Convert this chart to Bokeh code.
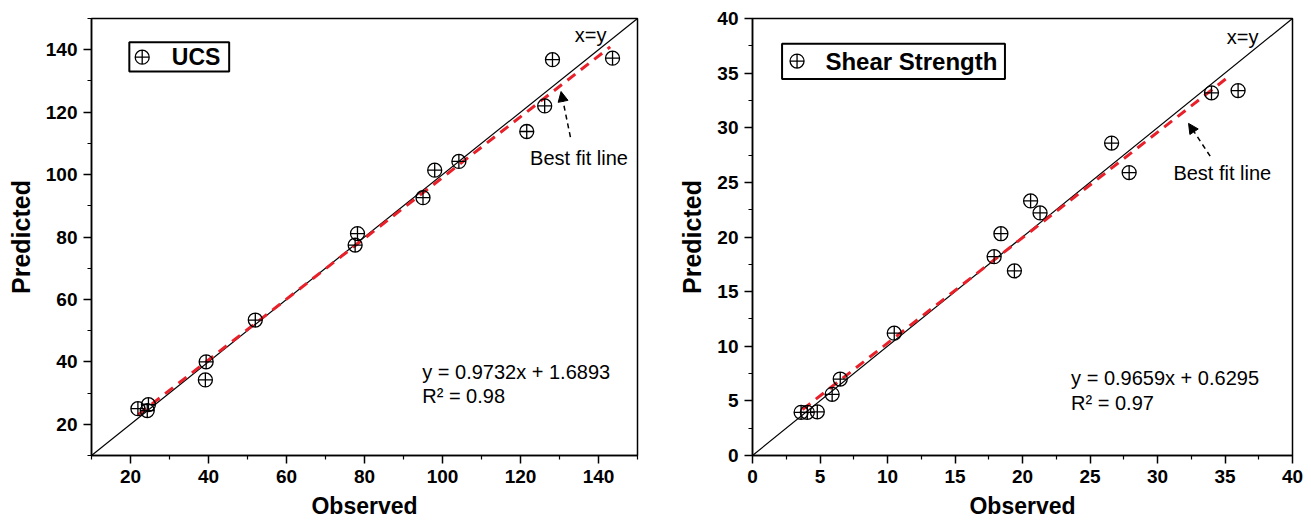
from bokeh.plotting import figure
from bokeh.layouts import row
from bokeh.models import FixedTicker, Label, Arrow, NormalHead, BoxAnnotation, Range1d
from bokeh.embed import file_html
from bokeh.resources import INLINE

FONT = "Liberation Sans"

# ---------------- UCS data ----------------
ucs_observed = [21.9, 24.3, 24.6, 39.2, 39.4, 52.0, 77.6, 78.2, 95.0, 98.0, 104.2, 121.6, 126.2, 128.2, 143.6]
ucs_predicted = [25.0, 24.4, 26.3, 34.2, 40.0, 53.4, 77.4, 81.1, 92.6, 101.4, 104.2, 113.8, 122.0, 136.8, 137.3]
ucs_fit_x = [22.0, 143.0]
ucs_fit_y = [23.1, 140.9]
ucs_diag = [10, 150]
ucs_major = [20, 40, 60, 80, 100, 120, 140]
ucs_minor = [10, 30, 50, 70, 90, 110, 130, 150]

# ---------------- Shear strength data ----------------
ss_observed = [3.6, 4.06, 4.8, 5.9, 6.5, 10.5, 17.9, 18.4, 19.4, 20.6, 21.3, 26.6, 27.9, 34.0, 35.97]
ss_predicted = [3.95, 3.95, 4.0, 5.6, 7.0, 11.2, 18.2, 20.3, 16.9, 23.3, 22.2, 28.6, 25.9, 33.2, 33.4]
ss_fit_x = [3.7, 35.3]
ss_fit_y = [4.2, 34.7]
ss_diag = [0, 40]
ss_major = [0, 5, 10, 15, 20, 25, 30, 35, 40]
ss_minor = [2.5, 7.5, 12.5, 17.5, 22.5, 27.5, 32.5, 37.5]

RED = "#e8202a"


def style(p, major, minor):
    p.xgrid.visible = False
    p.ygrid.visible = False
    p.background_fill_color = "white"
    p.border_fill_color = "white"
    p.outline_line_color = "black"
    p.outline_line_width = 1.5
    p.outline_line_alpha = 1.0
    for ax in (p.xaxis[0], p.yaxis[0]):
        ax.ticker = FixedTicker(ticks=major, minor_ticks=minor)
        ax.axis_line_width = 1.5
        ax.axis_line_color = "black"
        ax.major_tick_line_width = 1.5
        ax.minor_tick_line_width = 1.2
        ax.major_tick_out = 8
        ax.major_tick_in = 0
        ax.minor_tick_out = 4
        ax.minor_tick_in = 0
        ax.major_label_text_font = FONT
        ax.major_label_text_font_size = "19px"
        ax.major_label_text_font_style = "bold"
        ax.major_label_text_color = "black"
        ax.major_label_standoff = 6
        ax.axis_label_text_font = FONT
        ax.axis_label_text_font_style = "bold"
        ax.axis_label_text_color = "black"
    p.xaxis.axis_label = "Observed"
    p.yaxis.axis_label = "Predicted"
    p.xaxis.axis_label_text_font_size = "23px"
    p.yaxis.axis_label_text_font_size = "25px"
    p.xaxis.axis_label_standoff = 7
    p.yaxis.axis_label_standoff = 8


def label(p, x, y, text, size, bold=False, align="left"):
    p.add_layout(Label(x=x, y=y, text=text, text_font=FONT, text_font_size=size,
                       text_font_style="bold" if bold else "normal", text_color="black",
                       text_baseline="middle", text_align=align))


# ---------------- Left figure ----------------
p1 = figure(width=655, height=521, x_range=Range1d(10, 150), y_range=Range1d(10, 150),
            output_backend="svg", toolbar_location=None,
            min_border_left=91, min_border_right=18, min_border_top=12, min_border_bottom=65)
style(p1, ucs_major, ucs_minor)
p1.line(ucs_diag, ucs_diag, line_color="black", line_width=1.2)
p1.line(ucs_fit_x, ucs_fit_y, line_color=RED, line_width=3, line_dash="10 7")
p1.scatter(ucs_observed, ucs_predicted, marker="circle_cross", size=14,
           fill_color=None, line_color="black", line_width=1.3)
p1.add_layout(BoxAnnotation(left=19.7, right=45.3, bottom=133.0, top=142.4,
                            fill_alpha=0, line_color="black", line_width=2, line_alpha=1))
p1.scatter([23.0], [137.6], marker="circle_cross", size=14, fill_color=None,
           line_color="black", line_width=1.3)
label(p1, 30.6, 137.7, "UCS", "23px", bold=True)
label(p1, 138.0, 144.8, "x=y", "20px", align="center")
label(p1, 135.0, 105.3, "Best fit line", "20px", align="center")
label(p1, 94.8, 36.9, "y = 0.9732x + 1.6893", "20px")
label(p1, 94.8, 29.2, "R\u00b2 = 0.98", "20px")
p1.add_layout(Arrow(end=NormalHead(size=10, fill_color="black", line_color="black"),
                    x_start=132.8, y_start=112.0, x_end=130.4, y_end=126.6,
                    line_color="black", line_width=1.5, line_dash="5 4"))

# ---------------- Right figure ----------------
p2 = figure(width=656, height=521, x_range=Range1d(0, 40), y_range=Range1d(0, 40),
            output_backend="svg", toolbar_location=None,
            min_border_left=97, min_border_right=19, min_border_top=18, min_border_bottom=64)
style(p2, ss_major, ss_minor)
p2.line(ss_diag, ss_diag, line_color="black", line_width=1.2)
p2.line(ss_fit_x, ss_fit_y, line_color=RED, line_width=3, line_dash="10 7")
p2.scatter(ss_observed, ss_predicted, marker="circle_cross", size=14,
           fill_color=None, line_color="black", line_width=1.3)
p2.add_layout(BoxAnnotation(left=2.19, right=18.7, bottom=34.46, top=37.7,
                            fill_alpha=0, line_color="black", line_width=2, line_alpha=1))
p2.scatter([3.3], [36.1], marker="circle_cross", size=14, fill_color=None,
           line_color="black", line_width=1.3)
label(p2, 5.4, 36.1, "Shear Strength", "24px", bold=True)
label(p2, 36.3, 38.3, "x=y", "20px", align="center")
label(p2, 34.8, 25.9, "Best fit line", "20px", align="center")
label(p2, 23.6, 7.06, "y = 0.9659x + 0.6295", "20px")
label(p2, 23.6, 4.8, "R\u00b2 = 0.97", "20px")
p2.add_layout(Arrow(end=NormalHead(size=10, fill_color="black", line_color="black"),
                    x_start=33.9, y_start=27.4, x_end=32.3, y_end=30.4,
                    line_color="black", line_width=1.5, line_dash="5 4"))

layout = row(p1, p2)
open("out.html", "w").write(file_html(layout, INLINE))
